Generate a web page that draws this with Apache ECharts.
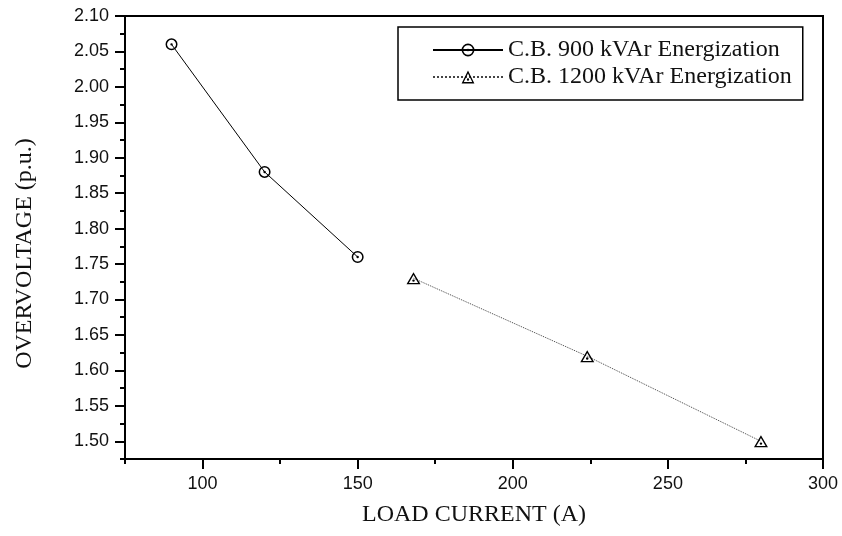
<!DOCTYPE html>
<html>
<head>
<meta charset="utf-8">
<script src="https://cdn.jsdelivr.net/npm/echarts@6/dist/echarts.min.js"></script>
<style>
  html, body { margin: 0; padding: 0; background: #fff; }
  #chart { width: 842px; height: 536px; }
</style>
</head>
<body>
<div id="chart"></div>
<script>
// data
const current900 = [90, 120, 150];
const volt900 = [2.06, 1.88, 1.76];
const current1200 = [168, 224, 280];
const volt1200 = [1.73, 1.62, 1.50];
const xTicks = [100, 150, 200, 250, 300];
const yTicks = [1.50, 1.55, 1.60, 1.65, 1.70, 1.75, 1.80, 1.85, 1.90, 1.95, 2.00, 2.05, 2.10];
const seriesNames = ["C.B. 900 kVAr Energization", "C.B. 1200 kVAr Energization"];

// circle with a dot, triangle with a dot (ring drawn with opposite winding)
const circleDot = "path://M0,10 A10,10 0 1,1 20,10 A10,10 0 1,1 0,10 Z " +
  "M2.5,10 A7.5,7.5 0 1,0 17.5,10 A7.5,7.5 0 1,0 2.5,10 Z " +
  "M8,10 A2,2 0 1,1 12,10 A2,2 0 1,1 8,10 Z";
const triDot = "path://M10,0 L20,18 L0,18 Z M10,4.2 L3.4,16 L16.6,16 Z " +
  "M8.2,12.5 A1.8,1.8 0 1,1 11.8,12.5 A1.8,1.8 0 1,1 8.2,12.5 Z";

const chart = echarts.init(document.getElementById("chart"));

const serifFont = "Liberation Serif";
const sansFont = "Liberation Sans";

let option = {
  backgroundColor: "#fff",
  animation: false,
  grid: {
    left: 125, right: 19, top: 16, bottom: 77,
    outerBoundsMode: "none",
    show: true,
    borderColor: "#000",
    borderWidth: 2,
  },
  legend: {
    orient: "vertical",
    left: 398,
    top: 27,
    padding: [11, 11, 11, 34],
    itemGap: 3,
    itemWidth: 70,
    itemHeight: 16,
    borderColor: "#000",
    borderWidth: 1.5,
    backgroundColor: "#fff",
    textStyle: { fontFamily: serifFont, fontSize: 24, color: "#111" },
    data: seriesNames,
  },
  xAxis: [
    {
      type: "value",
      min: 75,
      max: 300,
      name: "LOAD CURRENT (A)",
      nameLocation: "middle",
      nameGap: 44,
      nameTextStyle: { fontFamily: serifFont, fontSize: 24, color: "#111" },
      axisLine: { show: true, lineStyle: { color: "#000", width: 2 } },
      axisTick: { show: true, length: 10, lineStyle: { color: "#000", width: 2 }, customValues: xTicks },
      axisLabel: { customValues: xTicks, margin: 16, fontFamily: sansFont, fontSize: 18, color: "#111" },
      splitLine: { show: false },
    },
    {
      // minor ticks
      type: "value",
      position: "bottom",
      min: 75,
      max: 300,
      interval: 25,
      axisLine: { show: false },
      axisTick: { show: true, length: 5, lineStyle: { color: "#000", width: 2 } },
      axisLabel: { show: false },
      splitLine: { show: false },
    },
  ],
  yAxis: [
    {
      type: "value",
      min: 1.475,
      max: 2.1,
      name: "OVERVOLTAGE (p.u.)",
      nameLocation: "middle",
      nameGap: 88,
      nameTextStyle: { fontFamily: serifFont, fontSize: 24, color: "#111", padding: [0, 32, 0, 0] },
      axisLine: { show: true, lineStyle: { color: "#000", width: 2 } },
      axisTick: { show: true, length: 10, lineStyle: { color: "#000", width: 2 }, customValues: yTicks },
      axisLabel: {
        customValues: yTicks,
        margin: 16,
        fontFamily: sansFont,
        fontSize: 18,
        color: "#111",
        formatter: (v) => v.toFixed(2),
      },
      splitLine: { show: false },
    },
    {
      // minor ticks
      type: "value",
      position: "left",
      min: 1.475,
      max: 2.1,
      interval: 0.025,
      axisLine: { show: false },
      axisTick: { show: true, length: 5, lineStyle: { color: "#000", width: 2 } },
      axisLabel: { show: false },
      splitLine: { show: false },
    },
  ],
  series: [
    {
      name: seriesNames[0],
      type: "line",
      xAxisIndex: 0,
      yAxisIndex: 0,
      data: current900.map((x, i) => [x, volt900[i]]),
      symbol: circleDot,
      symbolSize: 12,
      lineStyle: { color: "#000", width: 1 },
      itemStyle: { color: "#000" },
    },
    {
      name: seriesNames[1],
      type: "line",
      xAxisIndex: 0,
      yAxisIndex: 0,
      data: current1200.map((x, i) => [x, volt1200[i]]),
      symbol: triDot,
      symbolSize: [14, 12],
      lineStyle: { color: "#444", width: 1, type: "dotted" },
      itemStyle: { color: "#000" },
    },
  ],
};

chart.setOption(option);
</script>
</body>
</html>
